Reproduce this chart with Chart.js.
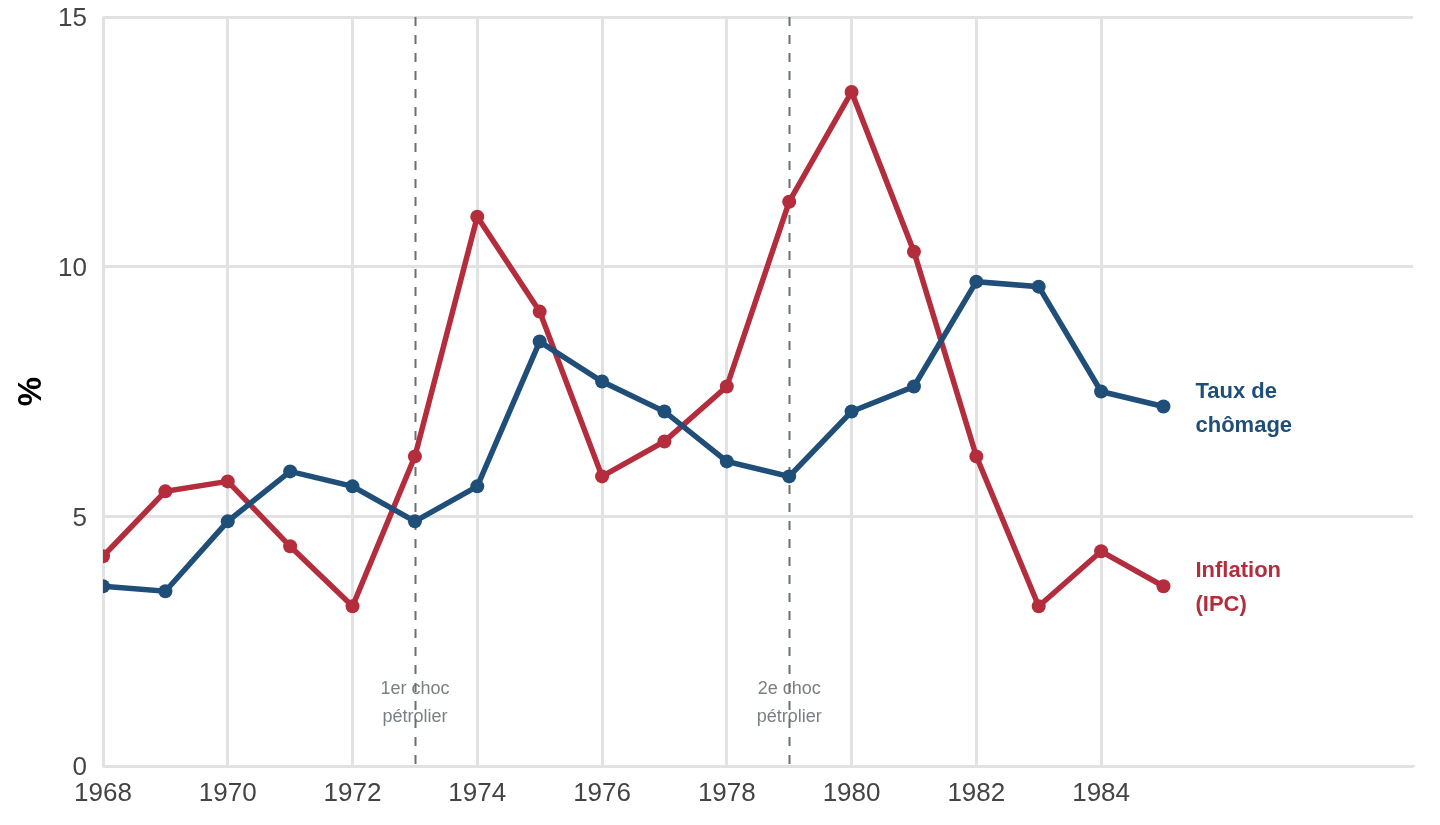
<!DOCTYPE html>
<html lang="fr">
<head>
<meta charset="utf-8">
<title>Chômage et inflation 1968-1985</title>
<script src="https://cdn.jsdelivr.net/npm/chart.js@4/dist/chart.umd.min.js"></script>
<style>
  html, body { margin: 0; padding: 0; background: #fff; }
  #wrap { width: 1440px; height: 825px; position: relative; }
</style>
</head>
<body>
<div id="wrap"><canvas id="chart"></canvas></div>
<script>
// Années et séries (en %)
const years = [1968, 1969, 1970, 1971, 1972, 1973, 1974, 1975, 1976, 1977, 1978, 1979, 1980, 1981, 1982, 1983, 1984, 1985];
const unemployment = [3.6, 3.5, 4.9, 5.9, 5.6, 4.9, 5.6, 8.5, 7.7, 7.1, 6.1, 5.8, 7.1, 7.6, 9.7, 9.6, 7.5, 7.2];
const inflation = [4.2, 5.5, 5.7, 4.4, 3.2, 6.2, 11.0, 9.1, 5.8, 6.5, 7.6, 11.3, 13.5, 10.3, 6.2, 3.2, 4.3, 3.6];

// Chocs pétroliers
const shockYears = [1973, 1979];
const shockLabels = [["1er choc", "pétrolier"], ["2e choc", "pétrolier"]];

// Étiquettes de fin de série
const seriesLabels = [["Taux de", "chômage"], ["Inflation", "(IPC)"]];

const BLUE = "#1f4e79";
const RED = "#b32d3c";
const FONT = "'Liberation Sans', Arial, sans-serif";

const toPoints = (vals) => vals.map((v, i) => ({ x: years[i], y: v }));

// Lignes verticales pointillées + texte des chocs
const shockPlugin = {
  id: "shocks",
  beforeDatasetsDraw(chart) {
    const { ctx, chartArea, scales } = chart;
    ctx.save();
    ctx.font = `18px ${FONT}`;
    ctx.fillStyle = "#7a7f85";
    ctx.textAlign = "center";
    ctx.textBaseline = "middle";
    shockYears.forEach((yr, i) => {
      const x = scales.x.getPixelForValue(yr);
      shockLabels[i].forEach((line, j) => {
        ctx.fillText(line, x, chartArea.bottom - 77 + j * 28);
      });
    });
    ctx.strokeStyle = "#6b7075";
    ctx.lineWidth = 2;
    ctx.setLineDash([9, 9]);
    shockYears.forEach((yr) => {
      const x = Math.round(scales.x.getPixelForValue(yr)) + 0.5;
      ctx.beginPath();
      ctx.moveTo(x, chartArea.top);
      ctx.lineTo(x, chartArea.bottom);
      ctx.stroke();
    });
    ctx.restore();
  },
};

// Étiquettes à droite du dernier point
const endLabelPlugin = {
  id: "endLabels",
  afterDatasetsDraw(chart) {
    const { ctx } = chart;
    ctx.save();
    ctx.font = `bold 22px ${FONT}`;
    ctx.textAlign = "left";
    ctx.textBaseline = "middle";
    chart.data.datasets.forEach((ds, i) => {
      const meta = chart.getDatasetMeta(i);
      const last = meta.data[meta.data.length - 1];
      const lines = seriesLabels[i];
      ctx.fillStyle = ds.borderColor;
      lines.forEach((line, j) => {
        const dy = (j - (lines.length - 1) / 2) * 34 + 2;
        ctx.fillText(line, last.x + 32, last.y + dy);
      });
    });
    ctx.restore();
  },
};

new Chart(document.getElementById("chart"), {
  type: "line",
  data: {
    datasets: [
      {
        label: "Taux de chômage",
        data: toPoints(unemployment),
        borderColor: BLUE,
        backgroundColor: BLUE,
        borderWidth: 5.5,
        pointRadius: 7,
        pointBorderWidth: 0,
        tension: 0,
      },
      {
        label: "Inflation (IPC)",
        data: toPoints(inflation),
        borderColor: RED,
        backgroundColor: RED,
        borderWidth: 5.5,
        pointRadius: 7,
        pointBorderWidth: 0,
        tension: 0,
      },
    ],
  },
  options: {
    responsive: true,
    maintainAspectRatio: false,
    animation: false,
    layout: { padding: { top: 0, right: 27, left: 0, bottom: 0 } },
    plugins: {
      legend: { display: false },
      tooltip: { enabled: false },
    },
    scales: {
      x: {
        type: "linear",
        min: 1968,
        max: 1989,
        afterBuildTicks(scale) {
          scale.ticks = scale.ticks.filter((t) => t.value <= 1984);
        },
        afterFit(scale) {
          scale.height = 59;
        },
        ticks: {
          stepSize: 2,
          padding: 12,
          color: "#444",
          font: { family: FONT, size: 26 },
          callback: (v) => String(v),
        },
        grid: {
          color: "#e2e2e2",
          lineWidth: 3,
          drawTicks: false,
        },
        border: { display: true, color: "#e2e2e2", width: 2 },
      },
      y: {
        min: 0,
        max: 15,
        afterFit(scale) {
          scale.width = 103;
          scale.paddingTop = 17;
          scale.paddingBottom = 0;
        },
        ticks: {
          stepSize: 5,
          padding: 16,
          labelOffset: 2,
          color: "#444",
          font: { family: FONT, size: 26 },
        },
        grid: {
          color: "#e2e2e2",
          lineWidth: 3,
          drawTicks: false,
        },
        border: { display: false },
        title: {
          display: true,
          text: "%",
          color: "#000",
          font: { family: FONT, size: 33, weight: "bold" },
          padding: { top: 12, bottom: 0 },
        },
      },
    },
  },
  plugins: [shockPlugin, endLabelPlugin],
});
</script>
</body>
</html>
